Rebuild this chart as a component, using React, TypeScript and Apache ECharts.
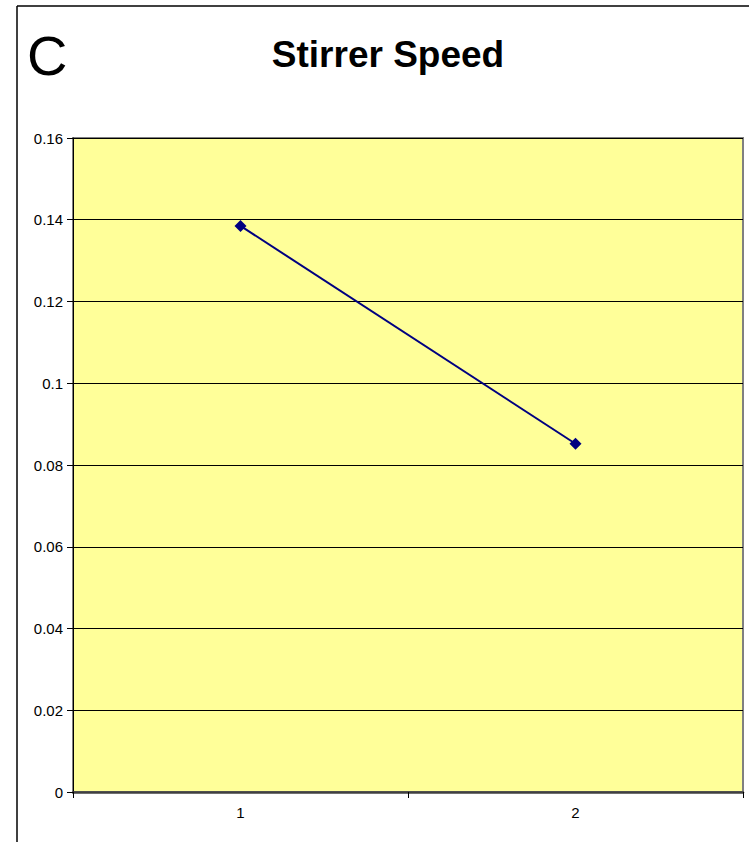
import React, { useEffect, useRef } from "react";
import * as echarts from "echarts";

const categories = ["1", "2"];
const values = [0.1385, 0.0852];
const yTicks = { min: 0, max: 0.16, interval: 0.02 };
const titleText = "Stirrer Speed";
const panelLabel = "C";

export default function App() {
  const ref = useRef<HTMLDivElement>(null);
  useEffect(() => {
    if (!ref.current) return;
    const chart = echarts.init(ref.current, null, { renderer: "svg" });
    chart.setOption({
      animation: false,
      backgroundColor: "#ffffff",
      title: {
        text: titleText,
        left: 383,
        top: 31,
        textAlign: "center",
        textStyle: {
          fontFamily: "Liberation Sans, Arial, sans-serif",
          fontWeight: "bold",
          fontSize: 37,
          color: "#000",
        },
      },
      graphic: [
        {
          type: "line",
          shape: { x1: 17, y1: 6, x2: 749, y2: 6 },
          style: { stroke: "#000", lineWidth: 1.5 },
        },
        {
          type: "line",
          shape: { x1: 17, y1: 6, x2: 17, y2: 842 },
          style: { stroke: "#000", lineWidth: 1.5 },
        },
        {
          type: "text",
          left: 27,
          top: 27,
          style: {
            text: panelLabel,
            fontFamily: "Liberation Sans, Arial, sans-serif",
            fontSize: 56,
            fill: "#000",
          },
        },
      ],
      grid: {
        left: 73,
        top: 138,
        right: 10,
        bottom: 50,
        show: true,
        backgroundColor: "#FFFF99",
        borderColor: "#808080",
        borderWidth: 2,
      },
      xAxis: {
        type: "category",
        data: categories,
        boundaryGap: true,
        axisLine: { lineStyle: { color: "#404040", width: 2.5 } },
        axisTick: { show: true, length: 6, lineStyle: { color: "#000", width: 1 } },
        axisLabel: {
          margin: 13,
          fontSize: 15,
          color: "#000",
          fontFamily: "Liberation Sans, Arial, sans-serif",
        },
        splitLine: { show: false },
      },
      yAxis: {
        type: "value",
        min: yTicks.min,
        max: yTicks.max,
        interval: yTicks.interval,
        axisLine: { show: true, lineStyle: { color: "#000", width: 1 } },
        axisTick: { show: true, length: 6, lineStyle: { color: "#000" } },
        axisLabel: {
          margin: 10,
          fontSize: 15,
          color: "#000",
          fontFamily: "Liberation Sans, Arial, sans-serif",
        },
        splitLine: { show: true, lineStyle: { color: "#000", width: 1 } },
      },
      series: [
        {
          type: "line",
          data: values,
          symbol: "diamond",
          symbolSize: 12,
          lineStyle: { color: "#000080", width: 2 },
          itemStyle: { color: "#000080" },
        },
      ],
    });
    return () => chart.dispose();
  }, []);
  return (
    <div
      ref={ref}
      style={{ position: "fixed", left: 0, top: 0, width: 753, height: 842 }}
    />
  );
}
